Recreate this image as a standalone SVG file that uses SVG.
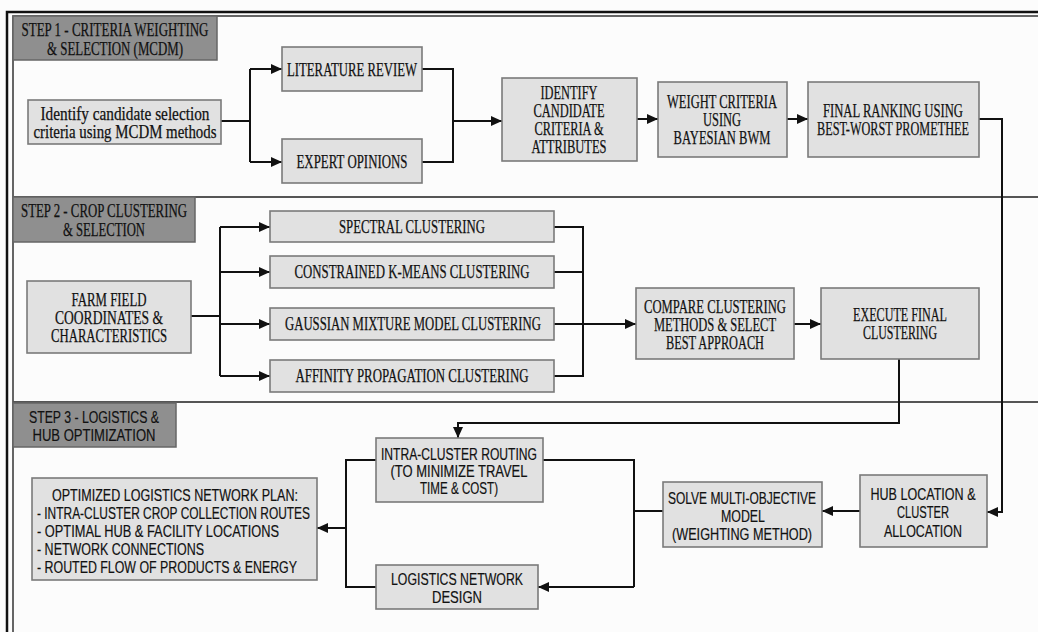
<svg xmlns="http://www.w3.org/2000/svg" width="1038" height="632" viewBox="0 0 1038 632">
<style>
.box{fill:#e1e1e1;stroke:#7a7a7a;stroke-width:1.6}
.lbl{fill:#8f8f8f;stroke:#666;stroke-width:1.5}
.ser{font-family:"Liberation Serif",serif;font-size:18.5px;fill:#111;stroke:#111;stroke-width:0.25;text-anchor:middle}
.san{font-family:"Liberation Sans",sans-serif;font-size:17px;fill:#111;stroke:#111;stroke-width:0.2;text-anchor:middle}
.st{text-anchor:start}
.ln{fill:none;stroke:#111;stroke-width:2}
.div{fill:none;stroke:#555;stroke-width:2}
</style>
<defs>
<marker id="ah" markerUnits="userSpaceOnUse" markerWidth="11" markerHeight="10" refX="11" refY="5" orient="auto">
<path d="M0,0 L11,5 L0,10 z" fill="#111"/>
</marker>
</defs>
<rect x="0" y="0" width="1038" height="632" fill="#fcfcfc"/>
<g id="frame">
<path d="M7,632 V12 H1038" fill="none" stroke="#111" stroke-width="2.5"/>
<path d="M13,632 V16 H1038" fill="none" stroke="#333" stroke-width="1.5"/>
<path class="div" d="M13,197 H1038"/>
<path class="div" d="M13,402 H1038"/>
</g>

<g id="connectors">
<path class="ln" d="M221,121 H250"/>
<path class="ln" d="M250,69 V162"/>
<path class="ln" d="M250,69 H282" marker-end="url(#ah)"/>
<path class="ln" d="M250,162 H282" marker-end="url(#ah)"/>
<path class="ln" d="M422,69 H453 V162 H422"/>
<path class="ln" d="M453,121 H502" marker-end="url(#ah)"/>
<path class="ln" d="M637,119 H658" marker-end="url(#ah)"/>
<path class="ln" d="M787,119 H808" marker-end="url(#ah)"/>
<path class="ln" d="M979,119 H1002 V512 H987" marker-end="url(#ah)"/>
<path class="ln" d="M191,316 H220"/>
<path class="ln" d="M220,227 V376"/>
<path class="ln" d="M220,227 H270" marker-end="url(#ah)"/>
<path class="ln" d="M220,272 H270" marker-end="url(#ah)"/>
<path class="ln" d="M220,324 H270" marker-end="url(#ah)"/>
<path class="ln" d="M220,376 H270" marker-end="url(#ah)"/>
<path class="ln" d="M554,227 H583 V376 H554"/>
<path class="ln" d="M554,272 H583"/>
<path class="ln" d="M554,324 H636" marker-end="url(#ah)"/>
<path class="ln" d="M794,324 H821" marker-end="url(#ah)"/>
<path class="ln" d="M899,359 V423 H458 V438" marker-end="url(#ah)"/>
<path class="ln" d="M860,511 H822" marker-end="url(#ah)"/>
<path class="ln" d="M663,511 H634"/>
<path class="ln" d="M543,460 H634 V587"/>
<path class="ln" d="M634,587 H538" marker-end="url(#ah)"/>
<path class="ln" d="M376,460 H346 V587 H376"/>
<path class="ln" d="M346,528 H317" marker-end="url(#ah)"/>
</g>

<g id="step1-label">
<rect class="lbl" x="13" y="16" width="204" height="44"/>
<text class="ser" x="115" y="36" textLength="187" lengthAdjust="spacingAndGlyphs">STEP 1 - CRITERIA WEIGHTING</text>
<text class="ser" x="115" y="55" textLength="136" lengthAdjust="spacingAndGlyphs">&amp; SELECTION (MCDM)</text>
</g>
<g id="identify-criteria">
<rect class="box" x="28" y="100" width="193" height="44"/>
<text class="ser" x="125" y="120" font-size="19.5" textLength="169" lengthAdjust="spacingAndGlyphs">Identify candidate selection</text>
<text class="ser" x="125" y="138" font-size="19.5" textLength="183" lengthAdjust="spacingAndGlyphs">criteria using MCDM methods</text>
</g>
<g id="literature-review">
<rect class="box" x="282" y="47" width="140" height="44"/>
<text class="ser" x="352" y="76" textLength="130" lengthAdjust="spacingAndGlyphs">LITERATURE REVIEW</text>
</g>
<g id="expert-opinions">
<rect class="box" x="282" y="139" width="140" height="44"/>
<text class="ser" x="352" y="168" textLength="111" lengthAdjust="spacingAndGlyphs">EXPERT OPINIONS</text>
</g>
<g id="candidate-criteria">
<rect class="box" x="502" y="78" width="135" height="83"/>
<text class="ser" x="569" y="99" textLength="57" lengthAdjust="spacingAndGlyphs">IDENTIFY</text>
<text class="ser" x="569" y="117" textLength="71" lengthAdjust="spacingAndGlyphs">CANDIDATE</text>
<text class="ser" x="569" y="135" textLength="69" lengthAdjust="spacingAndGlyphs">CRITERIA &amp;</text>
<text class="ser" x="569" y="153" textLength="75" lengthAdjust="spacingAndGlyphs">ATTRIBUTES</text>
</g>
<g id="weight-criteria">
<rect class="box" x="658" y="82" width="129" height="75"/>
<text class="ser" x="722" y="108" textLength="110" lengthAdjust="spacingAndGlyphs">WEIGHT CRITERIA</text>
<text class="ser" x="722" y="126" textLength="38" lengthAdjust="spacingAndGlyphs">USING</text>
<text class="ser" x="722" y="144" textLength="97" lengthAdjust="spacingAndGlyphs">BAYESIAN BWM</text>
</g>
<g id="final-ranking">
<rect class="box" x="808" y="82" width="171" height="75"/>
<text class="ser" x="893" y="117" textLength="140" lengthAdjust="spacingAndGlyphs">FINAL RANKING USING</text>
<text class="ser" x="893" y="135" textLength="152" lengthAdjust="spacingAndGlyphs">BEST-WORST PROMETHEE</text>
</g>

<g id="step2-label">
<rect class="lbl" x="13" y="197" width="182" height="45"/>
<text class="ser" x="104" y="217" textLength="166" lengthAdjust="spacingAndGlyphs">STEP 2 - CROP CLUSTERING</text>
<text class="ser" x="104" y="236" textLength="82" lengthAdjust="spacingAndGlyphs">&amp; SELECTION</text>
</g>
<g id="farm-field">
<rect class="box" x="27" y="281" width="164" height="72"/>
<text class="ser" x="109" y="306" textLength="75" lengthAdjust="spacingAndGlyphs">FARM FIELD</text>
<text class="ser" x="109" y="324" textLength="108" lengthAdjust="spacingAndGlyphs">COORDINATES &amp;</text>
<text class="ser" x="109" y="342" textLength="116" lengthAdjust="spacingAndGlyphs">CHARACTERISTICS</text>
</g>
<g id="spectral">
<rect class="box" x="270" y="211" width="284" height="31"/>
<text class="ser" x="412" y="233" textLength="146" lengthAdjust="spacingAndGlyphs">SPECTRAL CLUSTERING</text>
</g>
<g id="kmeans">
<rect class="box" x="270" y="256" width="284" height="32"/>
<text class="ser" x="412" y="278" textLength="235" lengthAdjust="spacingAndGlyphs">CONSTRAINED K-MEANS CLUSTERING</text>
</g>
<g id="gaussian">
<rect class="box" x="270" y="308" width="284" height="32"/>
<text class="ser" x="413" y="330" textLength="256" lengthAdjust="spacingAndGlyphs">GAUSSIAN MIXTURE MODEL CLUSTERING</text>
</g>
<g id="affinity">
<rect class="box" x="270" y="360" width="284" height="32"/>
<text class="ser" x="412" y="382" textLength="233" lengthAdjust="spacingAndGlyphs">AFFINITY PROPAGATION CLUSTERING</text>
</g>
<g id="compare">
<rect class="box" x="636" y="288" width="158" height="71"/>
<text class="ser" x="715" y="313" textLength="142" lengthAdjust="spacingAndGlyphs">COMPARE CLUSTERING</text>
<text class="ser" x="715" y="331" textLength="122" lengthAdjust="spacingAndGlyphs">METHODS &amp; SELECT</text>
<text class="ser" x="715" y="349" textLength="98" lengthAdjust="spacingAndGlyphs">BEST APPROACH</text>
</g>
<g id="execute">
<rect class="box" x="821" y="288" width="158" height="71"/>
<text class="ser" x="900" y="321" textLength="94" lengthAdjust="spacingAndGlyphs">EXECUTE FINAL</text>
<text class="ser" x="900" y="339" textLength="74" lengthAdjust="spacingAndGlyphs">CLUSTERING</text>
</g>

<g id="step3-label">
<rect class="lbl" x="13" y="403" width="163" height="44"/>
<text class="san" x="94" y="423" textLength="130" lengthAdjust="spacingAndGlyphs">STEP 3 - LOGISTICS &amp;</text>
<text class="san" x="94" y="441" textLength="123" lengthAdjust="spacingAndGlyphs">HUB OPTIMIZATION</text>
</g>
<g id="intra-cluster">
<rect class="box" x="376" y="438" width="167" height="64"/>
<text class="san" x="459" y="460" textLength="156" lengthAdjust="spacingAndGlyphs">INTRA-CLUSTER ROUTING</text>
<text class="san" x="459" y="477" textLength="137" lengthAdjust="spacingAndGlyphs">(TO MINIMIZE TRAVEL</text>
<text class="san" x="459" y="494" textLength="78" lengthAdjust="spacingAndGlyphs">TIME &amp; COST)</text>
</g>
<g id="network-design">
<rect class="box" x="376" y="565" width="162" height="44"/>
<text class="san" x="457" y="585" textLength="132" lengthAdjust="spacingAndGlyphs">LOGISTICS NETWORK</text>
<text class="san" x="457" y="603" textLength="50" lengthAdjust="spacingAndGlyphs">DESIGN</text>
</g>
<g id="optimized-plan">
<rect class="box" x="32" y="478" width="285" height="102"/>
<text class="san" x="175" y="501" textLength="246" lengthAdjust="spacingAndGlyphs">OPTIMIZED LOGISTICS NETWORK PLAN:</text>
<text class="san st" x="37" y="519" textLength="273" lengthAdjust="spacingAndGlyphs">- INTRA-CLUSTER CROP COLLECTION ROUTES</text>
<text class="san st" x="37" y="537" textLength="242" lengthAdjust="spacingAndGlyphs">- OPTIMAL HUB &amp; FACILITY LOCATIONS</text>
<text class="san st" x="37" y="555" textLength="167" lengthAdjust="spacingAndGlyphs">- NETWORK CONNECTIONS</text>
<text class="san st" x="37" y="573" textLength="260" lengthAdjust="spacingAndGlyphs">- ROUTED FLOW OF PRODUCTS &amp; ENERGY</text>
</g>
<g id="solve-model">
<rect class="box" x="663" y="482" width="159" height="65"/>
<text class="san" x="742" y="504" textLength="148" lengthAdjust="spacingAndGlyphs">SOLVE MULTI-OBJECTIVE</text>
<text class="san" x="743" y="522" textLength="44" lengthAdjust="spacingAndGlyphs">MODEL</text>
<text class="san" x="742" y="540" textLength="140" lengthAdjust="spacingAndGlyphs">(WEIGHTING METHOD)</text>
</g>
<g id="hub-location">
<rect class="box" x="860" y="475" width="127" height="72"/>
<text class="san" x="923" y="500" textLength="105" lengthAdjust="spacingAndGlyphs">HUB LOCATION &amp;</text>
<text class="san" x="923" y="518" textLength="52" lengthAdjust="spacingAndGlyphs">CLUSTER</text>
<text class="san" x="923" y="537" textLength="78" lengthAdjust="spacingAndGlyphs">ALLOCATION</text>
</g>
</svg>
